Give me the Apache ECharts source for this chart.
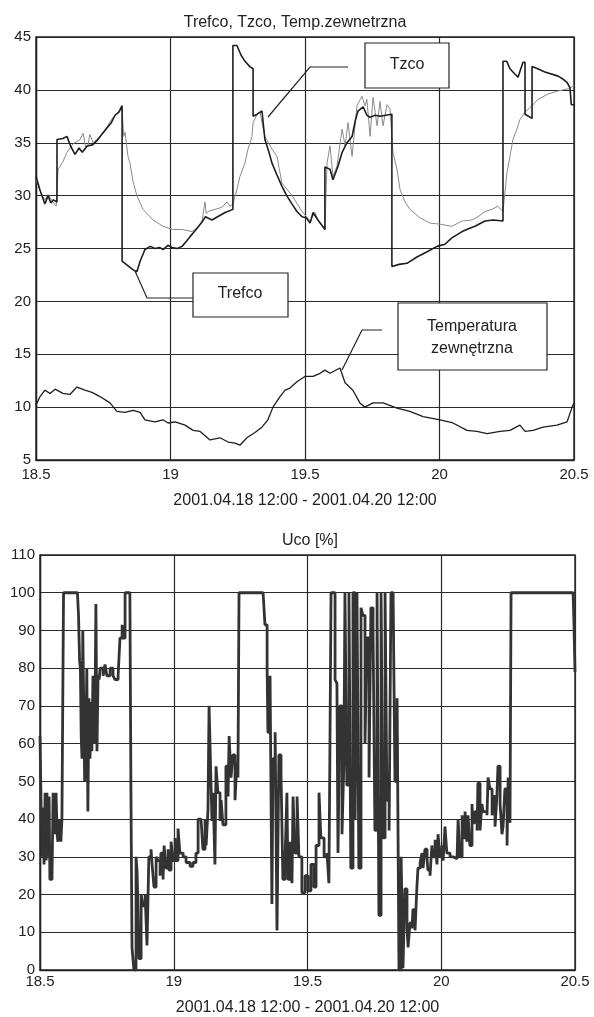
<!DOCTYPE html>
<html lang="pl">
<head>
  <meta charset="UTF-8">
  <title>Trefco, Tzco, Uco</title>
  <style>
    html, body { margin: 0; padding: 0; background: #fff; }
    #main { width: 594px; height: 1017px; }
  </style>
</head>
<body>
  <div id="main"></div>
  <script src="https://cdn.jsdelivr.net/npm/echarts@6/dist/echarts.min.js"></script>
  <script>
    // czas w dniach (18.5 = 2001.04.18 12:00)
    var xTicks = [18.5, 19, 19.5, 20, 20.5]

    var trefcoT = [18.500,18.515,18.533,18.545,18.555,18.565,18.578,18.578,18.600,18.615,
      18.630,18.645,18.660,18.672,18.690,18.710,18.727,18.745,18.764,18.780,
      18.794,18.808,18.820,18.820,18.835,18.860,18.875,18.887,18.905,18.925,
      18.942,18.960,18.972,18.990,19.006,19.025,19.043,19.060,19.072,19.095,
      19.117,19.130,19.154,19.175,19.203,19.232,19.232,19.247,19.262,19.277,
      19.295,19.307,19.307,19.322,19.340,19.351,19.365,19.377,19.395,19.414,
      19.432,19.452,19.470,19.489,19.505,19.519,19.530,19.537,19.548,19.560,
      19.574,19.574,19.593,19.604,19.611,19.623,19.638,19.656,19.675,19.688,
      19.697,19.716,19.730,19.742,19.760,19.779,19.800,19.823,19.823,19.850,
      19.879,19.916,19.954,19.991,20.020,20.046,20.084,20.110,20.132,20.169,
      20.200,20.236,20.236,20.250,20.262,20.280,20.292,20.310,20.318,20.318,
      20.344,20.344,20.365,20.392,20.441,20.460,20.474,20.485,20.490,20.500]
    var trefcoV = [31.8,30.5,29.2,30.0,29.3,29.6,29.4,35.3,35.4,35.6,
      34.6,33.9,34.5,34.1,34.7,34.8,35.2,35.8,36.4,36.9,
      37.6,37.9,38.5,23.8,23.5,23.0,22.8,23.8,24.9,25.2,
      25.0,25.1,24.9,25.3,25.1,25.0,25.2,25.7,26.1,26.8,
      27.5,28.0,27.7,28.0,28.4,28.7,44.2,44.2,43.3,42.7,
      42.2,42.0,37.5,37.7,38.0,35.3,34.2,33.1,32.0,30.9,
      30.0,29.2,28.5,28.0,27.9,27.4,28.4,28.5,27.7,27.3,
      26.8,32.7,32.5,31.5,31.6,32.8,34.1,35.0,35.6,37.2,
      38.0,38.4,37.6,37.4,37.6,37.5,37.6,37.7,23.3,23.5,
      23.6,24.2,24.7,25.2,25.4,26.0,26.6,26.9,27.1,27.6,
      27.7,27.6,42.7,42.7,42.0,41.5,41.2,42.6,42.6,37.7,
      37.3,42.2,42.0,41.7,41.3,41.0,40.7,40.2,38.6,38.6]

    var tzcoT = [18.500,18.510,18.520,18.533,18.545,18.560,18.575,18.582,18.582,18.600,
      18.615,18.638,18.664,18.675,18.685,18.693,18.700,18.712,18.738,18.764,
      18.786,18.805,18.820,18.826,18.831,18.842,18.849,18.861,18.875,18.898,
      18.935,18.972,19.009,19.043,19.080,19.102,19.117,19.128,19.133,19.139,
      19.165,19.191,19.210,19.221,19.232,19.247,19.258,19.277,19.288,19.303,
      19.307,19.322,19.333,19.340,19.351,19.377,19.396,19.414,19.452,19.489,
      19.519,19.537,19.548,19.574,19.582,19.593,19.604,19.619,19.638,19.649,
      19.660,19.675,19.693,19.712,19.723,19.730,19.742,19.753,19.768,19.779,
      19.790,19.805,19.816,19.827,19.842,19.853,19.872,19.890,19.928,19.965,
      20.002,20.046,20.084,20.121,20.143,20.169,20.195,20.217,20.236,20.251,
      20.262,20.273,20.288,20.299,20.318,20.344,20.366,20.403,20.441,20.478,
      20.493,20.500]
    var tzcoV = [31.5,30.8,30.2,29.6,30.1,29.5,29.0,29.0,32.5,33.2,
      34.1,34.9,35.3,35.9,34.5,34.7,35.8,35.0,35.6,36.5,
      37.4,37.9,38.2,35.6,36.0,33.7,33.1,31.3,30.0,28.7,
      27.7,27.1,26.8,26.8,26.6,27.0,27.5,29.4,28.3,28.5,
      28.7,28.9,29.4,29.0,29.2,30.6,31.8,33.1,34.4,35.6,
      36.9,37.7,37.9,36.9,35.6,34.4,33.7,31.2,30.0,28.5,
      27.6,28.4,27.7,26.8,33.1,34.7,31.8,32.8,36.3,34.7,
      36.9,33.7,38.5,39.4,38.5,39.1,35.6,39.3,36.6,38.9,
      36.6,38.6,38.2,34.1,32.5,30.6,29.4,28.7,27.9,27.4,
      27.3,27.1,27.6,27.7,28.0,28.5,28.7,29.0,28.5,32.2,
      33.7,35.3,36.3,37.2,37.9,38.5,39.1,39.6,39.9,40.1,
      40.3,40.4]

    // temperatura zewnetrzna
    var tempT = [18.500,18.504,18.515,18.533,18.552,18.571,18.600,18.626,18.652,18.682,
      18.708,18.738,18.775,18.801,18.831,18.861,18.887,18.905,18.942,18.972,
      18.991,19.017,19.054,19.084,19.110,19.147,19.184,19.214,19.240,19.258,
      19.284,19.314,19.340,19.362,19.381,19.407,19.426,19.444,19.470,19.500,
      19.530,19.556,19.574,19.593,19.630,19.649,19.678,19.704,19.723,19.753,
      19.790,19.842,19.890,19.939,20.002,20.050,20.102,20.139,20.177,20.225,
      20.262,20.299,20.318,20.348,20.385,20.437,20.474,20.493,20.500]
    var tempV = [10.2,10.4,11.0,11.6,11.3,11.7,11.3,11.2,11.9,11.6,
      11.4,11.0,10.4,9.6,9.5,9.7,9.5,8.8,8.6,8.8,
      8.5,8.6,8.3,7.8,7.7,6.9,7.1,6.7,6.6,6.4,
      7.1,7.6,8.1,8.8,10.0,11.0,11.6,11.8,12.4,12.9,
      12.9,13.2,13.5,13.2,13.7,12.3,11.6,10.4,10.0,10.4,
      10.4,9.9,9.6,9.1,8.8,8.5,7.8,7.7,7.5,7.7,
      7.8,8.3,7.7,7.8,8.1,8.3,8.6,10.0,10.4]

    // Uco [%]
    var ucoT = [18.500,18.504,18.508,18.511,18.515,18.519,18.523,18.526,18.530,18.534,
      18.537,18.545,18.549,18.553,18.556,18.560,18.564,18.567,18.571,18.578,
      18.582,18.586,18.588,18.640,18.644,18.648,18.651,18.654,18.657,18.660,
      18.664,18.667,18.671,18.675,18.679,18.683,18.687,18.690,18.694,18.698,
      18.702,18.706,18.709,18.713,18.717,18.721,18.725,18.732,18.736,18.743,
      18.750,18.762,18.773,18.780,18.792,18.799,18.807,18.810,18.818,18.836,
      18.840,18.844,18.851,18.859,18.863,18.870,18.878,18.885,18.893,18.900,
      18.907,18.915,18.919,18.926,18.934,18.941,18.949,18.952,18.960,18.964,
      18.971,18.979,18.982,18.990,18.997,19.005,19.008,19.016,19.023,19.035,
      19.046,19.061,19.072,19.083,19.091,19.102,19.109,19.117,19.121,19.128,
      19.132,19.139,19.143,19.147,19.154,19.158,19.165,19.173,19.177,19.184,
      19.195,19.203,19.207,19.214,19.221,19.229,19.236,19.240,19.244,19.334,
      19.341,19.349,19.352,19.360,19.367,19.371,19.379,19.386,19.393,19.401,
      19.408,19.416,19.423,19.427,19.435,19.442,19.446,19.453,19.461,19.468,
      19.479,19.491,19.502,19.513,19.524,19.532,19.543,19.550,19.562,19.573,
      19.580,19.584,19.588,19.595,19.603,19.610,19.614,19.621,19.629,19.636,
      19.640,19.647,19.655,19.662,19.670,19.678,19.685,19.692,19.700,19.707,
      19.715,19.722,19.730,19.737,19.745,19.752,19.760,19.767,19.775,19.782,
      19.790,19.797,19.805,19.812,19.820,19.827,19.835,19.842,19.850,19.857,
      19.864,19.872,19.876,19.883,19.891,19.894,19.902,19.909,19.913,19.921,
      19.928,19.932,19.939,19.947,19.950,19.958,19.965,19.969,19.977,19.984,
      19.988,19.995,20.003,20.007,20.014,20.021,20.033,20.044,20.059,20.063,
      20.070,20.078,20.081,20.089,20.096,20.100,20.107,20.115,20.118,20.126,
      20.134,20.137,20.145,20.152,20.156,20.171,20.175,20.182,20.190,20.193,
      20.201,20.208,20.212,20.220,20.227,20.231,20.238,20.246,20.250,20.257,
      20.261,20.493,20.496,20.500]
    var ucoV = [62,44,30,43,28,47,29,47,30,46,
      24,25,47,40,36,47,36,34,40,34,
      40,40,100,100,94,82,80,62,56,90,
      90,50,57,80,42,72,56,71,58,78,
      60,72,97,58,78,77,80,80,78,81,
      78,80,78,77,78,88,91.5,88,100,100,
      47,6,0,30,26,3,20,17,20,6.5,
      30,32,28,22,30,29,25,31,24,33,
      27,32,26.5,34,29,35,29,37.5,31,30,
      28.5,27.5,28.5,31,40,39.5,32,40,33,42.5,
      70,50,39.5,47,28,54,47,39.5,45,38.5,
      54,46,62,51,57,45,55,51,100,100,
      91.5,80,63,78,17.5,56,63,10.5,57,52,
      24,29,47,24,34,23,46,31,46,30,
      20.5,25,21,28,22,33,47,35,30,31,
      23,60,100,100,77,76,31,70,36,55,
      100,49,100,27,100,40,100,27,96,94,
      60,88,51,96,91,37,100,14.5,100,35,
      100,45,37,100,100,50,72,0,30,0.5,
      21.5,11,6,12.5,11,16,10.5,22,27,28.5,
      31,27,32,29.5,26.5,25,33,30,34.5,28,
      36,30,33,29,38,31,30,29.5,29,40,
      30,41,35,42,34,41,33,44,39,42,
      37,49.5,37,44,42,41,51,48,41,46,
      38,46,54,44,36,38,48,33,51,39,
      100,100,92,79]

    function pairs(t, v) {
      return t.map(function (x, i) { return [x, v[i]] })
    }

    var ink = '#222'
    var gridLine = { show: true, lineStyle: { color: '#2a2a2a', width: 1.2 } }
    var font = 'Liberation Sans, Arial, sans-serif'

    function xAxisFor(gridIndex, labelMargin, nameGap) {
      return {
        type: 'value', gridIndex: gridIndex,
        min: xTicks[0], max: xTicks[xTicks.length - 1], interval: 0.5,
        name: '2001.04.18 12:00 - 2001.04.20 12:00',
        nameLocation: 'middle', nameGap: nameGap,
        nameTextStyle: { color: ink, fontSize: 16, fontFamily: font },
        axisLine: { lineStyle: { color: ink, width: 1.4 } },
        axisTick: { show: false },
        axisLabel: { color: ink, fontSize: 15, fontFamily: font, margin: labelMargin, showMaxLabel: true, showMinLabel: true },
        splitLine: gridLine
      }
    }

    var myChart = echarts.init(document.getElementById('main'))

    var option = {
      backgroundColor: '#fff',
      animation: false,
      title: [
        { text: 'Trefco, Tzco, Temp.zewnetrzna', left: 290, textAlign: 'center', top: 10,
          textStyle: { color: ink, fontSize: 16, fontWeight: 'normal', fontFamily: font } },
        { text: 'Uco [%]', left: 305, textAlign: 'center', top: 528,
          textStyle: { color: ink, fontSize: 16, fontWeight: 'normal', fontFamily: font } }
      ],
      grid: [
        { left: 36, top: 37, width: 538, height: 423, show: true, borderColor: ink, borderWidth: 1.4 },
        { left: 40, top: 555, width: 535, height: 420, show: true, borderColor: ink, borderWidth: 1.4 }
      ],
      xAxis: [xAxisFor(0, 7, 33), xAxisFor(1, 4, 30)],
      yAxis: [
        { type: 'value', gridIndex: 0, min: 5, max: 45, interval: 5,
          axisLine: { show: true, lineStyle: { color: ink, width: 1.4 } },
          axisTick: { show: false },
          axisLabel: { color: ink, fontSize: 15, fontFamily: font, margin: 5 },
          splitLine: gridLine },
        { type: 'value', gridIndex: 1, min: 0, max: 110, interval: 10,
          axisLine: { show: true, lineStyle: { color: ink, width: 1.4 } },
          axisTick: { show: false },
          axisLabel: { color: ink, fontSize: 15, fontFamily: font, margin: 5 },
          splitLine: gridLine }
      ],
      series: [
        { name: 'Tzco', type: 'line', xAxisIndex: 0, yAxisIndex: 0, showSymbol: false,
          data: pairs(tzcoT, tzcoV), lineStyle: { color: '#8a8a8a', width: 1 } },
        { name: 'Trefco', type: 'line', xAxisIndex: 0, yAxisIndex: 0, showSymbol: false,
          data: pairs(trefcoT, trefcoV), lineStyle: { color: '#1e1e1e', width: 1.6 } },
        { name: 'Temperatura zewnętrzna', type: 'line', xAxisIndex: 0, yAxisIndex: 0, showSymbol: false,
          data: pairs(tempT, tempV), lineStyle: { color: '#1e1e1e', width: 1.3 } },
        // sygnal sterujacy zmienia sie skokowo
        { name: 'Uco', type: 'line', step: 'end', xAxisIndex: 1, yAxisIndex: 1, showSymbol: false,
          data: pairs(ucoT, ucoV), lineStyle: { color: '#333', width: 2.8 } }
      ],
      // opisy krzywych (ramki z odnosnikami)
      graphic: [
        { type: 'polyline', shape: { points: [[348, 67], [310, 67], [268, 117]] }, style: { stroke: ink, lineWidth: 1.2, fill: null }, z: 100 },
        { type: 'rect', shape: { x: 365, y: 43, width: 84, height: 45 }, style: { fill: '#fff', stroke: ink, lineWidth: 1.2 }, z: 100 },
        { type: 'text', x: 407, y: 65, style: { text: 'Tzco', fill: ink, fontSize: 16, fontFamily: font, align: 'center', verticalAlign: 'middle' }, z: 101 },

        { type: 'polyline', shape: { points: [[135, 271], [147, 298], [193, 298]] }, style: { stroke: ink, lineWidth: 1.2, fill: null }, z: 100 },
        { type: 'rect', shape: { x: 193, y: 273, width: 95, height: 44 }, style: { fill: '#fff', stroke: ink, lineWidth: 1.2 }, z: 100 },
        { type: 'text', x: 240, y: 294, style: { text: 'Trefco', fill: ink, fontSize: 16, fontFamily: font, align: 'center', verticalAlign: 'middle' }, z: 101 },

        { type: 'polyline', shape: { points: [[342, 370], [362, 330], [382, 330]] }, style: { stroke: ink, lineWidth: 1.2, fill: null }, z: 100 },
        { type: 'rect', shape: { x: 398, y: 303, width: 149, height: 67 }, style: { fill: '#fff', stroke: ink, lineWidth: 1.2 }, z: 100 },
        { type: 'text', x: 472, y: 327, style: { text: 'Temperatura', fill: ink, fontSize: 16, fontFamily: font, align: 'center', verticalAlign: 'middle' }, z: 101 },
        { type: 'text', x: 472, y: 349, style: { text: 'zewnętrzna', fill: ink, fontSize: 16, fontFamily: font, align: 'center', verticalAlign: 'middle' }, z: 101 }
      ]
    }

    myChart.setOption(option)
  </script>
</body>
</html>
